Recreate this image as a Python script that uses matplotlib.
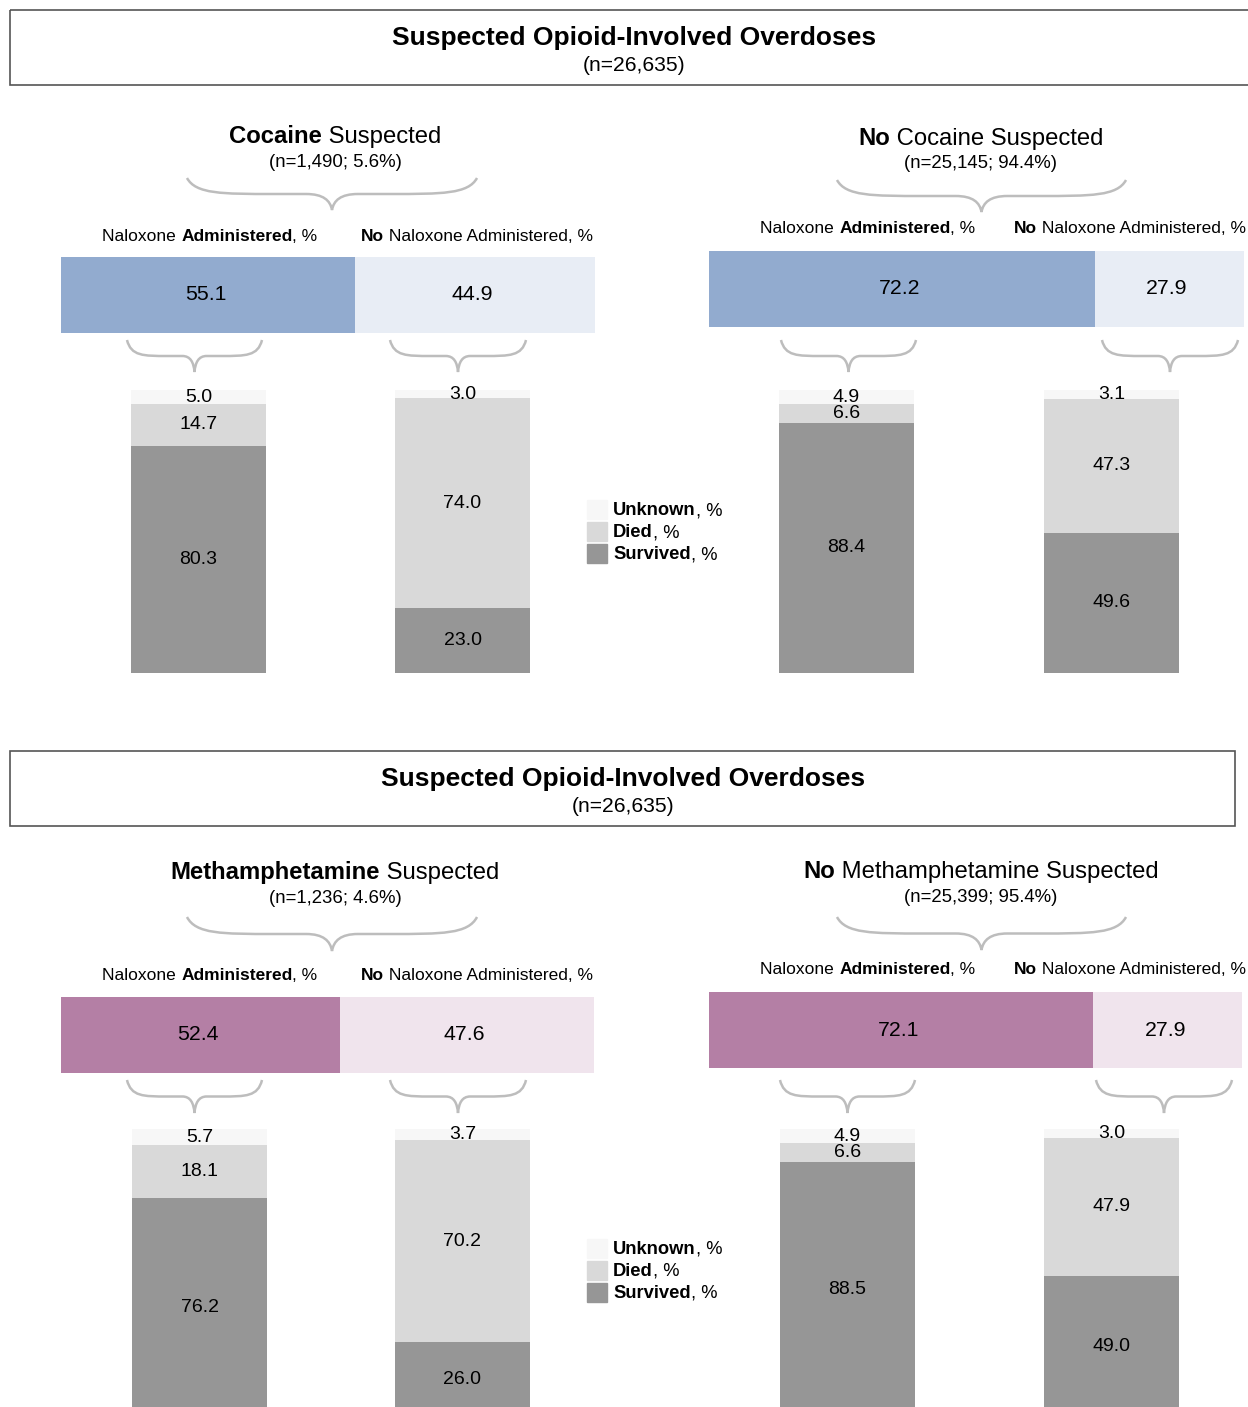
import matplotlib
matplotlib.use("Agg")
import matplotlib.pyplot as plt
from matplotlib.patches import Rectangle, PathPatch
from matplotlib.path import Path
from matplotlib.transforms import offset_copy

plt.rcParams['font.family'] = ['Liberation Sans', 'DejaVu Sans']

# ---- data ----
main_title = "Suspected Opioid-Involved Overdoses"
main_n = "(n=26,635)"

panel_bold = ["Cocaine", "No", "Methamphetamine", "No"]
panel_rest = [" Suspected", " Cocaine Suspected", " Suspected", " Methamphetamine Suspected"]
panel_n = ["(n=1,490; 5.6%)", "(n=25,145; 94.4%)", "(n=1,236; 4.6%)", "(n=25,399; 95.4%)"]

cocaine_naloxone = [55.1, 44.9]
no_cocaine_naloxone = [72.2, 27.9]
meth_naloxone = [52.4, 47.6]
no_meth_naloxone = [72.1, 27.9]

# [naloxone administered, no naloxone administered]
cocaine_survived = [80.3, 23.0]
cocaine_died = [14.7, 74.0]
cocaine_unknown = [5.0, 3.0]
no_cocaine_survived = [88.4, 49.6]
no_cocaine_died = [6.6, 47.3]
no_cocaine_unknown = [4.9, 3.1]
meth_survived = [76.2, 26.0]
meth_died = [18.1, 70.2]
meth_unknown = [5.7, 3.7]
no_meth_survived = [88.5, 49.0]
no_meth_died = [6.6, 47.9]
no_meth_unknown = [4.9, 3.0]

legend_labels = ["Unknown", "Died", "Survived"]

C_SURV = '#969696'
C_DIED = '#d9d9d9'
C_UNK = '#f7f7f7'
BLUE = ('#92abcf', '#e8edf5')
PURPLE = ('#b47fa5', '#f0e4ed')
BRACE = '#bdbdbd'

W, H = 1248, 1407
fig = plt.figure(figsize=(W / 100, H / 100), dpi=100)
ov = fig.add_axes([0, 0, 1, 1])
ov.set_xlim(0, W)
ov.set_ylim(H, 0)
ov.axis('off')
renderer = fig.canvas.get_renderer()


def px_axes(x0, y0, x1, y1):
    ax = fig.add_axes([x0 / W, 1 - y1 / H, (x1 - x0) / W, (y1 - y0) / H])
    ax.axis('off')
    return ax


def text_w(s, size, weight):
    # advance width of s, measured between two bars so spaces and bearings count
    t1 = ov.text(0, 0, "|" + s + "|", fontsize=size, fontweight=weight)
    t2 = ov.text(0, 0, "||", fontsize=size, fontweight=weight)
    w = t1.get_window_extent(renderer).width - t2.get_window_extent(renderer).width
    t1.remove()
    t2.remove()
    return w


def rich(x, y, parts, size, ha='center'):
    # parts: list of (text, bold) drawn one after another on a baseline
    widths = [text_w(s, size, 'bold' if b else 'normal') for s, b in parts]
    total = sum(widths)
    cur = x - total / 2 if ha == 'center' else x
    for (s, b), w in zip(parts, widths):
        ov.text(cur, y, s, fontsize=size, va='baseline', ha='left',
                fontweight='bold' if b else 'normal', color='black')
        cur += w


def brace(x0, x1, yt, yb):
    w = x1 - x0
    xc = (x0 + x1) / 2
    h = yb - yt
    ym = yt + 0.5 * h
    verts = [(x0, yt), (x0 + 0.03 * w, ym), (x0 + 0.12 * w, ym), (x0 + 0.3 * w, ym),
             (xc - 0.09 * w, ym),
             (xc - 0.03 * w, ym), (xc - 0.006 * w, ym + 0.2 * h), (xc, yb),
             (xc + 0.006 * w, ym + 0.2 * h), (xc + 0.03 * w, ym), (xc + 0.09 * w, ym),
             (x1 - 0.3 * w, ym),
             (x1 - 0.12 * w, ym), (x1 - 0.03 * w, ym), (x1, yt)]
    codes = [Path.MOVETO] + [Path.CURVE4] * 3 + [Path.LINETO] + [Path.CURVE4] * 6 + \
            [Path.LINETO] + [Path.CURVE4] * 3
    ov.add_patch(PathPatch(Path(verts, codes), fill=False, ec=BRACE, lw=1.8))


def hbar(box, vals, colors):
    ax = px_axes(*box)
    ax.set_xlim(0, 100)
    ax.set_ylim(-0.5, 0.5)
    tr = offset_copy(ax.transData, fig=fig, x=-2.5, y=0, units='dots')
    left = 0
    for v, c in zip(vals, colors):
        ax.barh(0, v, left=left, height=1, color=c, clip_on=False)
        ax.text(left + v / 2, 0, f"{v:.1f}", ha='center', va='center', fontsize=15.3,
                transform=tr)
        left += v


def vbars(box, bar_w, surv, died, unk):
    x0, y0, x1, y1 = box
    d = (x1 - x0) - bar_w
    bw = bar_w / d
    ax = px_axes(*box)
    ax.set_xlim(-bw / 2, 1 + bw / 2)
    ax.set_ylim(0, 100)
    pos = [0, 1]
    ax.bar(pos, surv, width=bw, color=C_SURV)
    ax.bar(pos, died, width=bw, bottom=surv, color=C_DIED)
    bot2 = [s + d_ for s, d_ in zip(surv, died)]
    ax.bar(pos, unk, width=bw, bottom=bot2, color=C_UNK)
    for i in pos:
        ax.text(i, surv[i] / 2, f"{surv[i]:.1f}", ha='center', va='center', fontsize=14)
        ax.text(i, surv[i] + died[i] / 2, f"{died[i]:.1f}", ha='center', va='center', fontsize=14)
        ax.text(i, bot2[i] + unk[i] / 2, f"{unk[i]:.1f}", ha='center', va='center', fontsize=14)


def header_row(xl, xr, y):
    rich(xl, y, [("Naloxone ", False), ("Administered", True), (", %", False)], 12.5)
    rich(xr, y, [("No", True), (" Naloxone Administered, %", False)], 12.5)


def legend(x, y):
    for i, (lab, c) in enumerate(zip(legend_labels, [C_UNK, C_DIED, C_SURV])):
        yy = y + i * 22
        ov.add_patch(Rectangle((x, yy), 20, 19, color=c))
        rich(x + 26, yy + 15, [(lab, True), (", %", False)], 13.2, ha='left')


# ---- two blocks ----
blocks = [
    dict(dy=0, box_r=1258, tx=634,
         panels=[(0, cocaine_naloxone, cocaine_survived, cocaine_died, cocaine_unknown),
                 (1, no_cocaine_naloxone, no_cocaine_survived, no_cocaine_died, no_cocaine_unknown)],
         colors=BLUE),
    dict(dy=741, box_r=1235, tx=623,
         panels=[(2, meth_naloxone, meth_survived, meth_died, meth_unknown),
                 (3, no_meth_naloxone, no_meth_survived, no_meth_died, no_meth_unknown)],
         colors=PURPLE),
]

for b in blocks:
    dy = b['dy']
    lo = 0 if dy == 0 else 1
    ov.add_patch(Rectangle((10, 10 + dy), b['box_r'] - 10, 75, fill=False, ec='#555555', lw=1.2))
    rich(b['tx'], 45 + dy, [(main_title, True)], 19)
    rich(b['tx'], 71 + dy, [(main_n, False)], 15.2)

    # left panel
    k, nal, surv, diedv, unk = b['panels'][0]
    rich(335, 143 + dy - lo * 5, [(panel_bold[k], True), (panel_rest[k], False)], 17.2)
    rich(335, 167 + dy - lo * 5, [(panel_n[k], False)], 13.4)
    brace(187, 477, 178 + dy - lo * 2, 210 + dy)
    header_row(210, 477, 241 + dy - lo * 2)
    hbar((61, 257 + dy - lo, 595 - lo, 333 + dy - lo), nal, b['colors'])
    brace(127, 262, 340 + dy - lo, 372 + dy)
    brace(390, 526, 340 + dy - lo, 372 + dy)
    vbars((131 + lo, 390 + dy - 2 * lo, 530, 673 + dy + 3 * lo), 135, surv, diedv, unk)
    legend(587, 500 + dy - 2 * lo)

    # right panel
    k, nal, surv, diedv, unk = b['panels'][1]
    rich(981, 145 + dy - lo * 8, [(panel_bold[k], True), (panel_rest[k], False)], 17.2)
    rich(981, 168 + dy - lo * 7, [(panel_n[k], False)], 13.4)
    brace(837, 1126, 180 + dy - lo * 4, 212 + dy - lo * 3)
    header_row(868, 1130, 233 + dy)
    hbar((709, 251 + dy, 1243 - lo, 327 + dy), nal, b['colors'])
    brace(781 - lo, 916 - lo, 340 + dy - lo, 372 + dy)
    if dy == 0:
        brace(1102, 1238, 340, 372)
    else:
        brace(1096, 1232, 340 + dy - lo, 372 + dy)
    vbars((779 + lo, 390 + dy - 2 * lo, 1179, 673 + dy + 3 * lo), 135, surv, diedv, unk)

fig.savefig("out.png", dpi=100)
